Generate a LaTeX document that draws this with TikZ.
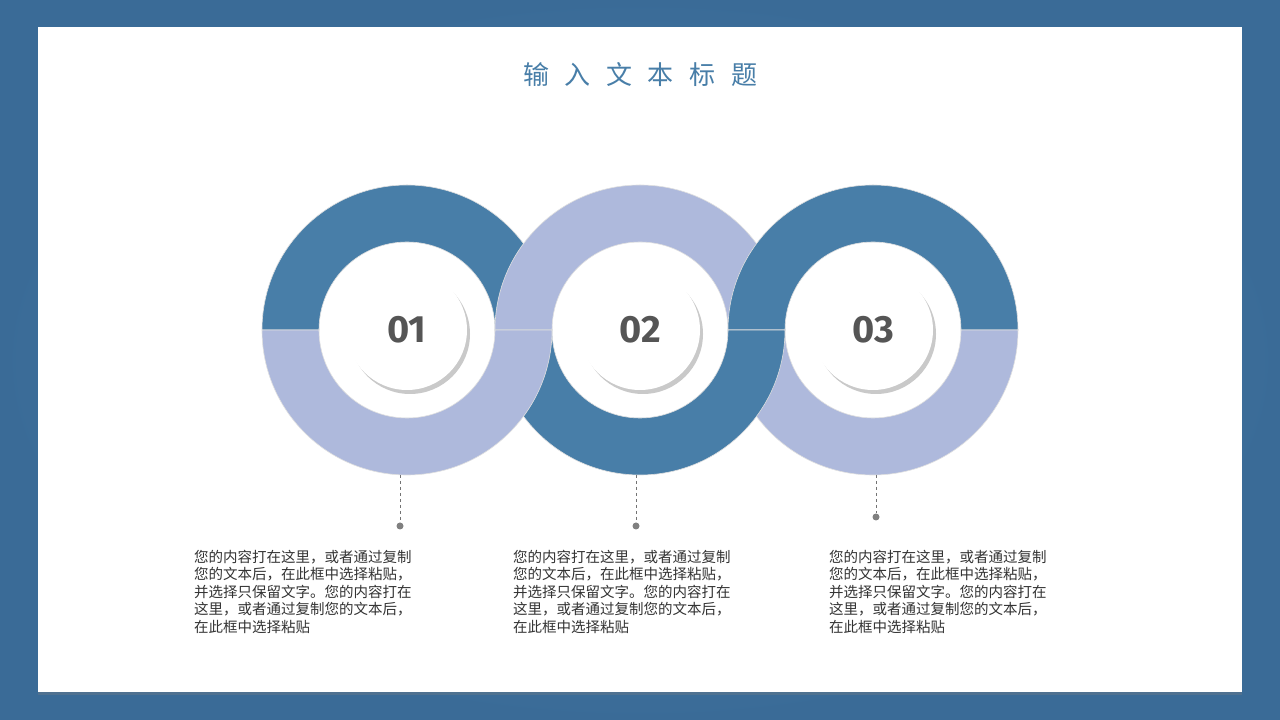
\documentclass[tikz,border=0pt]{standalone}
\usepackage{fontspec}
\newfontfamily\cjk{Noto Sans CJK SC}
\newfontfamily\numf{Fira Sans}
\usetikzlibrary{shadows}
\definecolor{dk}{HTML}{487EA8}
\definecolor{lt}{HTML}{AEB9DC}
\definecolor{bgA}{HTML}{3A6B97}
\definecolor{bgB}{HTML}{4F84B2}
\definecolor{txt}{HTML}{333333}
\definecolor{num}{HTML}{555555}
\tikzset{
  half/.style={fill=#1, draw=black!12, line width=0.6pt},
  innerc/.style={circle, fill=white, minimum size=120pt, inner sep=0pt,
     drop shadow={shadow xshift=3pt, shadow yshift=-4pt, opacity=0.35, fill=black!60},
     font=\numf\bfseries\fontsize{38}{40}\selectfont, text=num},
  body/.style={anchor=north west, align=left, text=txt, font=\cjk\fontsize{14.5}{17.5}\selectfont, inner sep=0pt},
  conn/.style={draw=black!55, dashed, line width=0.9pt},
  dotn/.style={circle, fill=black!50, minimum size=7pt, inner sep=0pt}
}
\newcommand{\tophalf}[2]{\fill[half=#2] (#1+145,390) arc[start angle=0,end angle=180,radius=145] -- ++(57,0) arc[start angle=180,end angle=0,radius=88] -- cycle;}
\newcommand{\bothalf}[2]{\fill[half=#2] (#1+145,390) arc[start angle=0,end angle=-180,radius=145] -- ++(57,0) arc[start angle=-180,end angle=0,radius=88] -- cycle;}
\begin{document}
\begin{tikzpicture}[x=1pt,y=1pt]
\useasboundingbox (0,0) rectangle (1280,720);
\shade[inner color=bgB, outer color=bgA] (0,0) rectangle (1280,720);
\fill[white, drop shadow={shadow xshift=0pt,shadow yshift=-3pt,opacity=0.3}] (38,28) rectangle (1242,693);
\node[text=dk, font=\cjk\fontsize{26}{30}\selectfont] (title) at (640,645) {输\hspace{0.6em}入\hspace{0.6em}文\hspace{0.6em}本\hspace{0.6em}标\hspace{0.6em}题};
\tophalf{407}{dk}
\tophalf{640}{lt}
\tophalf{873}{dk}
\bothalf{873}{lt}
\bothalf{640}{dk}
\bothalf{407}{lt}
\node[innerc] (c1) at (407,390) {01};
\node[innerc] (c2) at (640,390) {02};
\node[innerc] (c3) at (873,390) {03};
\node[dotn] (d1) at (400,194) {};
\node[dotn] (d2) at (636,194) {};
\node[dotn] (d3) at (876,203) {};
\coordinate (t1) at (400,245);
\coordinate (t2) at (636,245);
\coordinate (t3) at (876,245);
\draw[conn] (t1) -- (d1);
\draw[conn] (t2) -- (d2);
\draw[conn] (t3) -- (d3);
\node[body] (b1) at (194,170) {您的内容打在这里，或者通过复制\\您的文本后，在此框中选择粘贴，\\并选择只保留文字。您的内容打在\\这里，或者通过复制您的文本后，\\在此框中选择粘贴};
\node[body] (b2) at (513,170) {您的内容打在这里，或者通过复制\\您的文本后，在此框中选择粘贴，\\并选择只保留文字。您的内容打在\\这里，或者通过复制您的文本后，\\在此框中选择粘贴};
\node[body] (b3) at (829,170) {您的内容打在这里，或者通过复制\\您的文本后，在此框中选择粘贴，\\并选择只保留文字。您的内容打在\\这里，或者通过复制您的文本后，\\在此框中选择粘贴};
\end{tikzpicture}
\end{document}
